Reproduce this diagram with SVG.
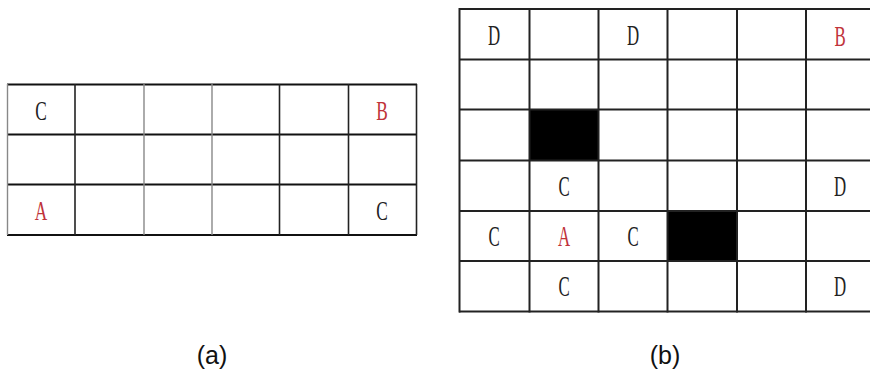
<svg xmlns="http://www.w3.org/2000/svg" width="870" height="372" viewBox="0 0 870 372">
<style>
.bg{fill:#fff}
.h{stroke:#111;stroke-width:2.2;fill:none}
.v{stroke:#222;stroke-width:1.6;fill:none}
.vg{stroke:#888;stroke-width:1.4;fill:none}
.g{stroke:#222;stroke-width:2;fill:none}
.blk{fill:#000}
.t{font-family:"Liberation Serif",serif;text-anchor:middle;fill:#222}
.ta{font-size:27px}
.tb{font-size:29px}
.r{fill:#c0333a}
.cap{font-family:"Liberation Sans",Arial,sans-serif;font-size:25px;fill:#111;text-anchor:middle}
</style>
<rect class="bg" x="0" y="0" width="870" height="372"/>
<g id="grid-a">
  <g id="grid-a-lines">
    <line class="h" x1="7" y1="84.5" x2="417" y2="84.5"/>
    <line class="h" x1="7" y1="134.5" x2="417" y2="134.5"/>
    <line class="h" x1="7" y1="184.5" x2="417" y2="184.5"/>
    <line class="h" x1="7" y1="235" x2="417" y2="235"/>
    <line class="vg" x1="7.5" y1="84" x2="7.5" y2="235"/>
    <line class="v" x1="75" y1="84" x2="75" y2="235"/>
    <line class="vg" x1="144" y1="84" x2="144" y2="235"/>
    <line class="vg" x1="212" y1="84" x2="212" y2="235"/>
    <line class="v" x1="279.5" y1="84" x2="279.5" y2="235"/>
    <line class="v" x1="348.5" y1="84" x2="348.5" y2="235"/>
    <line class="v" x1="416.5" y1="84" x2="416.5" y2="235"/>
  </g>
  <g id="a-C1"><text class="t ta" transform="translate(41,119.5) scale(0.64,1)">C</text></g>
  <g id="a-B"><text class="t ta r" transform="translate(382,119.5) scale(0.64,1)">B</text></g>
  <g id="a-A"><text class="t ta r" transform="translate(41,219.5) scale(0.64,1)">A</text></g>
  <g id="a-C2"><text class="t ta" transform="translate(382,219.5) scale(0.64,1)">C</text></g>
  <text class="cap" x="212" y="364">(a)</text>
</g>
<g id="grid-b">
  <rect class="blk" x="529.5" y="109.5" width="69" height="51"/>
  <rect class="blk" x="667.5" y="211" width="69.5" height="50"/>
  <g id="grid-b-lines">
    <line class="g" x1="459" y1="9" x2="870" y2="9"/>
    <line class="g" x1="459" y1="59.5" x2="870" y2="59.5"/>
    <line class="g" x1="459" y1="109.5" x2="870" y2="109.5"/>
    <line class="g" x1="459" y1="160.5" x2="870" y2="160.5"/>
    <line class="g" x1="459" y1="211" x2="870" y2="211"/>
    <line class="g" x1="459" y1="261" x2="870" y2="261"/>
    <line class="g" x1="459" y1="311.5" x2="870" y2="311.5"/>
    <line class="g" x1="459.5" y1="8" x2="459.5" y2="312.5"/>
    <line class="g" x1="529.5" y1="8" x2="529.5" y2="312.5"/>
    <line class="g" x1="598.5" y1="8" x2="598.5" y2="312.5"/>
    <line class="g" x1="667.5" y1="8" x2="667.5" y2="312.5"/>
    <line class="g" x1="737" y1="8" x2="737" y2="312.5"/>
    <line class="g" x1="806" y1="8" x2="806" y2="312.5"/>
  </g>
  <g id="b-D1"><text class="t tb" transform="translate(494,44.5) scale(0.58,1)">D</text></g>
  <g id="b-D2"><text class="t tb" transform="translate(633,44.5) scale(0.58,1)">D</text></g>
  <g id="b-B"><text class="t tb r" transform="translate(840,46) scale(0.58,1)">B</text></g>
  <g id="b-C1"><text class="t tb" transform="translate(564,195.5) scale(0.58,1)">C</text></g>
  <g id="b-D3"><text class="t tb" transform="translate(840,195.5) scale(0.58,1)">D</text></g>
  <g id="b-C2"><text class="t tb" transform="translate(494,245.5) scale(0.58,1)">C</text></g>
  <g id="b-A"><text class="t tb r" transform="translate(564,245.5) scale(0.58,1)">A</text></g>
  <g id="b-C3"><text class="t tb" transform="translate(633,245.5) scale(0.58,1)">C</text></g>
  <g id="b-C4"><text class="t tb" transform="translate(564,296) scale(0.58,1)">C</text></g>
  <g id="b-D4"><text class="t tb" transform="translate(840,296) scale(0.58,1)">D</text></g>
  <text class="cap" x="665" y="364">(b)</text>
</g>
</svg>
